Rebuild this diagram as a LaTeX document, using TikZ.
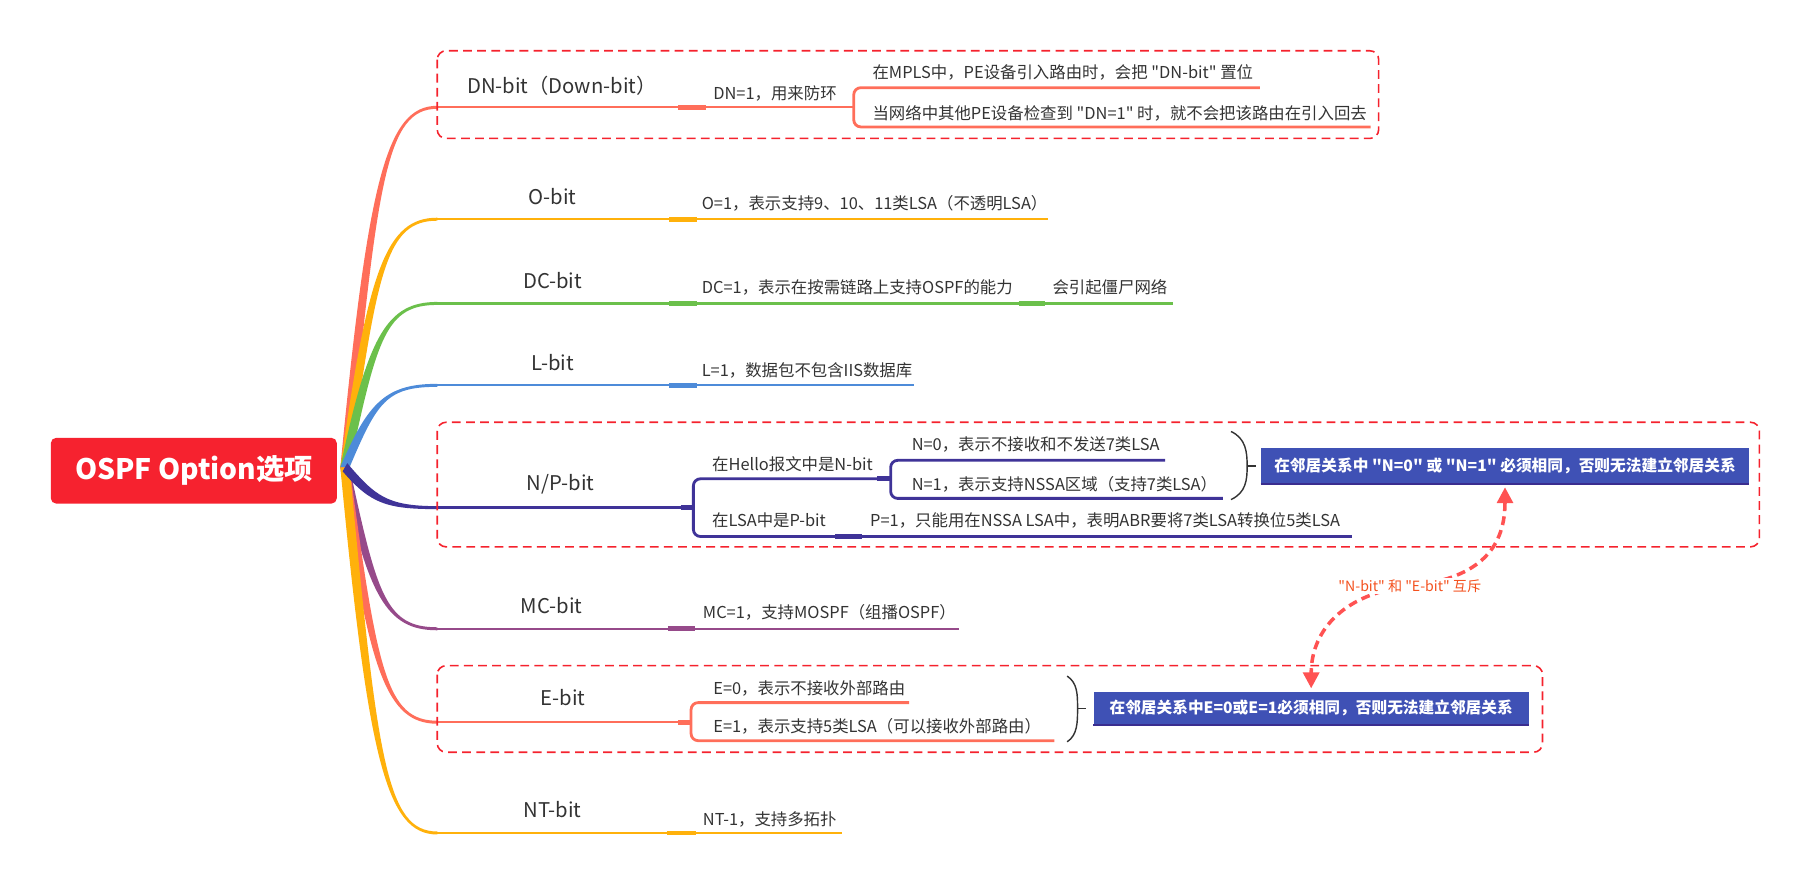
\documentclass[tikz,border=0pt]{standalone}
\usepackage{fontspec}
\setmainfont{Noto Sans CJK SC}[Ligatures=TeXOff]
\usepackage{xcolor}
\usepackage{tikz}
\usetikzlibrary{positioning,arrows.meta,calc}
\definecolor{OPTred}{HTML}{F6222F}
\definecolor{OPTcoral}{HTML}{FF6E5A}
\definecolor{OPTamber}{HTML}{FFB10B}
\definecolor{OPTgreen}{HTML}{6BC04B}
\definecolor{OPTblue}{HTML}{4D8BD9}
\definecolor{OPTindigo}{HTML}{3F3398}
\definecolor{OPTpurple}{HTML}{964A8A}
\definecolor{OPTdash}{HTML}{F5222D}
\definecolor{OPTnote}{HTML}{3F51B5}
\definecolor{OPTnoteline}{HTML}{3A2D8F}
\definecolor{OPTlink}{HTML}{FF5252}
\definecolor{OPTlinktext}{HTML}{F4511E}
\definecolor{OPTtext}{HTML}{333333}
\tikzset{
  rootbox/.style={rounded corners=3pt, fill=OPTred, text=white, minimum width=5.7cm, minimum height=1.31cm, font=\fontsize{16}{19}\selectfont\bfseries},
  topic/.style={text=OPTtext, inner sep=0pt, font=\fontsize{11.5}{14}\selectfont},
  leaf/.style={anchor=west, text=OPTtext, inner sep=0pt, font=\fontsize{9.3}{11}\selectfont},
  stem/.style={line width=1.3pt},
  stub/.style={line width=2.8pt},
  fork/.style={line width=1.6pt, rounded corners=4pt},
  groupbox/.style={draw=OPTdash, line width=0.9pt, dash pattern=on 5pt off 3pt, rounded corners=5pt},
  notebox/.style={fill=OPTnote, text=white, inner sep=0pt, font=\fontsize{8.9}{11}\selectfont\bfseries},
  bracket/.style={draw=OPTtext, line width=0.8pt},
  mutexarr/.style={draw=OPTlink, line width=2pt, dash pattern=on 5pt off 3pt, shorten <=2pt, shorten >=2pt, {Triangle[length=9pt,width=9pt]}-{Triangle[length=9pt,width=9pt]}},
  mutexlbl/.style={fill=white, text=OPTlinktext, inner sep=1pt, font=\fontsize{8}{10}\selectfont}
}
\newcommand{\twig}[4]{%
  \path ($(hub)!0.3!(#2)$) coordinate (tw1) ($(hub)!0.8!(#2)$) coordinate (tw2) ($(hub)!0.45!(#2)$) coordinate (tw3);
  \fill[#1] ($(hub)+(#3,#4)$) .. controls ($(tw1|-tw2)+(#3,#4)$) and ($(tw3|-#2)+(0,-1.3)$) .. ($(#2)+(0,-1.3)$)
    -- ($(#2)+(0,1.3)$) .. controls ($(tw3|-#2)+(0,1.3)$) and ($(tw1|-tw2)-(#3,#4)$) .. ($(hub)-(#3,#4)$) -- cycle;}

\begin{document}
\begin{tikzpicture}[x=0.023cm, y=-0.023cm]
  \useasboundingbox (0,0) rectangle (1568,767);
  \coordinate (hub) at (299,405);
  \path (379,93) coordinate (dnS) (588,93) coordinate (dnJ) (612,93) coordinate (dnK) (740,93) coordinate (dnF)
        (1092,76) coordinate (dnA) (1188,110) coordinate (dnB);
  \path (379,190) coordinate (oS) (580,190) coordinate (oJ) (604,190) coordinate (oK) (908,190) coordinate (oE);
  \path (379,263) coordinate (dcS) (580,263) coordinate (dcJ) (604,263) coordinate (dcK) (883,263) coordinate (dcM)
        (906,263) coordinate (dcN) (1017,263) coordinate (dcE);
  \path (379,334) coordinate (lS) (580,334) coordinate (lJ) (604,334) coordinate (lK) (792,334) coordinate (lE);
  \path (379,440) coordinate (npS) (590,440) coordinate (npJ) (601,440) coordinate (npF) (760,415) coordinate (npH)
        (772,415) coordinate (npG) (1010,399) coordinate (nA) (1060,432) coordinate (nB)
        (724,465) coordinate (pJ) (747,465) coordinate (pK) (1172,465) coordinate (pE);
  \path (379,545) coordinate (mcS) (579,545) coordinate (mcJ) (602,545) coordinate (mcK) (831,545) coordinate (mcE);
  \path (379,626) coordinate (eS) (588,626) coordinate (eJ) (599,626) coordinate (eF) (788,609) coordinate (eA) (914,642) coordinate (eB);
  \path (379,722) coordinate (ntS) (578,722) coordinate (ntJ) (603,722) coordinate (ntK) (730,722) coordinate (ntE);

  \twig{OPTcoral}{dnS}{-4}{0}
  \twig{OPTamber}{oS}{-4}{0}
  \twig{OPTgreen}{dcS}{-4}{0}
  \twig{OPTblue}{lS}{-4}{0}
  \twig{OPTpurple}{mcS}{4}{0}
  \twig{OPTcoral}{eS}{4}{0}
  \twig{OPTamber}{ntS}{4}{0}
  \twig{OPTindigo}{npS}{2}{-3.5}
  \node[rootbox] (root) at (168,408) {OSPF Option选项};

  \draw[stem, OPTcoral] (dnS) -- (dnJ) (dnK) -- (dnF);
  \draw[stub, OPTcoral] (dnJ) -- (dnK);
  \draw[fork, OPTcoral] (dnA) -- (dnF |- dnA) -- (dnF |- dnB) -- (dnB);
  \draw[stem, OPTamber] (oS) -- (oJ) (oK) -- (oE);
  \draw[stub, OPTamber] (oJ) -- (oK);
  \draw[stem, OPTgreen] (dcS) -- (dcJ) (dcK) -- (dcM) (dcN) -- (dcE);
  \draw[stub, OPTgreen] (dcJ) -- (dcK) (dcM) -- (dcN);
  \draw[stem, OPTblue] (lS) -- (lJ) (lK) -- (lE);
  \draw[stub, OPTblue] (lJ) -- (lK);
  \draw[stem, OPTindigo] (npS) -- (npJ) (pK) -- (pE);
  \draw[stub, OPTindigo] (npJ) -- (npF) (npH) -- (npG) (pJ) -- (pK);
  \draw[fork, OPTindigo] (npH) -- (npF |- npH) -- (npF |- pJ) -- (pJ);
  \draw[fork, OPTindigo] (nA) -- (npG |- nA) -- (npG |- nB) -- (nB);
  \draw[stem, OPTpurple] (mcS) -- (mcJ) (mcK) -- (mcE);
  \draw[stub, OPTpurple] (mcJ) -- (mcK);
  \draw[stem, OPTcoral] (eS) -- (eJ);
  \draw[stub, OPTcoral] (eJ) -- (eF);
  \draw[fork, OPTcoral] (eA) -- (eF |- eA) -- (eF |- eB) -- (eB);
  \draw[stem, OPTamber] (ntS) -- (ntJ) (ntK) -- (ntE);
  \draw[stub, OPTamber] (ntJ) -- (ntK);

  \draw[groupbox] (379,44) rectangle (1195,120);
  \draw[groupbox] (379,366) rectangle (1525,474);
  \draw[groupbox] (379,577) rectangle (1337,652);

  \node[topic] (dnT) at (487,74) {DN-bit（Down-bit）};
  \node[leaf] (dn1) at (618,81) {DN=1，用来防环};
  \node[leaf] (dn2) at (756,63) {在MPLS中，PE设备引入路由时，会把 "DN-bit" 置位};
  \node[leaf] (dn3) at (756,98) {当网络中其他PE设备检查到 "DN=1" 时，就不会把该路由在引入回去};
  \node[topic] (oT) at (479,170) {O-bit};
  \node[leaf] (o1) at (608,176) {O=1，表示支持9、10、11类LSA（不透明LSA）};
  \node[topic] (dcT) at (479,243) {DC-bit};
  \node[leaf] (dc1) at (608,249) {DC=1，表示在按需链路上支持OSPF的能力};
  \node[leaf] (dc2) at (912,249) {会引起僵尸网络};
  \node[topic] (lT) at (479,314) {L-bit};
  \node[leaf] (l1) at (608,321) {L=1，数据包不包含IIS数据库};
  \node[topic] (npT) at (486,420) {N/P-bit};
  \node[leaf] (np1) at (617,402) {在Hello报文中是N-bit};
  \node[leaf] (np2) at (790,385) {N=0，表示不接收和不发送7类LSA};
  \node[leaf] (np3) at (790,420) {N=1，表示支持NSSA区域（支持7类LSA）};
  \node[leaf] (np4) at (617,451) {在LSA中是P-bit};
  \node[leaf] (np5) at (754,451) {P=1，只能用在NSSA LSA中，表明ABR要将7类LSA转换位5类LSA};
  \node[topic] (mcT) at (478,525) {MC-bit};
  \node[leaf] (mc1) at (609,531) {MC=1，支持MOSPF（组播OSPF）};
  \node[topic] (eT) at (488,605) {E-bit};
  \node[leaf] (e1) at (618,597) {E=0，表示不接收外部路由};
  \node[leaf] (e2) at (618,630) {E=1，表示支持5类LSA（可以接收外部路由）};
  \node[topic] (ntT) at (479,702) {NT-bit};
  \node[leaf] (nt1) at (609,710) {NT-1，支持多拓扑};

  \node[notebox, minimum width=9.73cm, minimum height=0.713cm] (nnote) at (1304.5,403.5) {在邻居关系中 "N=0" 或 "N=1" 必须相同，否则无法建立邻居关系};
  \node[notebox, minimum width=8.67cm, minimum height=0.644cm] (enote) at (1136.5,614) {在邻居关系中E=0或E=1必须相同，否则无法建立邻居关系};
  \draw[OPTnoteline, line width=1pt] (nnote.south west) -- (nnote.south east);
  \draw[OPTnoteline, line width=1pt] (enote.south west) -- (enote.south east);

  \path (1067,374) coordinate (nBrT) (1081,404) coordinate (nBrM) (1067,433) coordinate (nBrB);
  \path (925,586) coordinate (eBrT) (934,614) coordinate (eBrM) (925,643) coordinate (eBrB);
  \draw[bracket] (nBrT) .. controls +(13,6) and +(0,-12) .. (nBrM) .. controls +(0,12) and +(13,-6) .. (nBrB);
  \draw[bracket] (nBrM) -- +(8,0);
  \draw[bracket] (eBrT) .. controls +(9,6) and +(0,-12) .. (eBrM) .. controls +(0,12) and +(9,-6) .. (eBrB);
  \draw[bracket] (eBrM) -- +(7,0);

  \coordinate (mx) at (1222,508);
  \draw[mutexarr] (nnote.south) .. controls +(0,60) and +(55,-6) .. (mx) .. controls +(-55,6) and +(0,-55) .. (enote.north);
  \node[mutexlbl] (mxl) at (mx) {"N-bit" 和 "E-bit" 互斥};
\end{tikzpicture}
\end{document}
